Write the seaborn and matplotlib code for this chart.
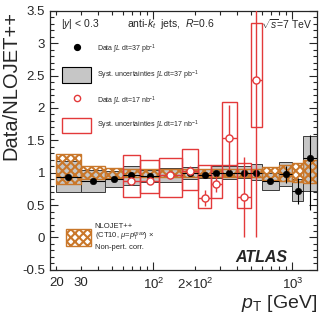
import numpy as np
import seaborn as sns
import matplotlib.pyplot as plt
import matplotlib.ticker as mticker
import matplotlib.lines as mlines
import matplotlib.patches as mpatches

sns.set_style('ticks')
plt.rcParams['font.family'] = ['Liberation Sans', 'DejaVu Sans']
plt.rcParams['mathtext.fontset'] = 'custom'
plt.rcParams['mathtext.rm'] = 'Liberation Sans'
plt.rcParams['mathtext.it'] = 'Liberation Sans:italic'
plt.rcParams['mathtext.bf'] = 'Liberation Sans:bold'
plt.rcParams['hatch.linewidth'] = 1.5

# pT bins (GeV), |y| < 0.3
pt_edges = [20, 30, 45, 60, 80, 110, 160, 210, 260, 310, 400, 500, 600, 800, 1000, 1200, 1500]

# data 37 pb-1 / NLOJET++
ratio_37 = [0.93, 0.87, 0.90, 0.96, 0.95, 0.965, 0.99, 0.96, 0.99, 0.99, 1.0, 0.99, 0.87, 0.975, 0.72, 1.23]
stat_lo_37 = [0.005, 0.005, 0.005, 0.005, 0.005, 0.005, 0.01, 0.01, 0.01, 0.02, 0.02, 0.03, 0.04, 0.13, 0.2, 0.8]
stat_hi_37 = [0.005, 0.005, 0.005, 0.005, 0.005, 0.005, 0.01, 0.01, 0.01, 0.02, 0.02, 0.03, 0.04, 0.13, 0.2, 0.35]
syst_lo_37 = [0.70, 0.71, 0.78, 0.81, 0.85, 0.85, 0.91, 0.92, 0.92, 0.91, 0.92, 0.89, 0.74, 0.79, 0.56, 0.72]
syst_hi_37 = [1.18, 1.05, 1.03, 1.10, 1.05, 1.07, 1.09, 1.06, 1.10, 1.10, 1.10, 1.13, 1.00, 1.16, 0.90, 1.57]

# NLOJET++ (CT10) x non-pert. corr. uncertainty band
theo_lo = [0.82, 0.90, 0.92, 0.94, 0.93, 0.93, 0.93, 0.93, 0.93, 0.93, 0.93, 0.93, 0.89, 0.87, 0.85, 0.84]
theo_hi = [1.29, 1.11, 1.08, 1.06, 1.06, 1.06, 1.06, 1.06, 1.06, 1.06, 1.06, 1.06, 1.09, 1.12, 1.15, 1.19]

# data 17 nb-1 / NLOJET++ (bins 60-600 GeV)
pt_edges_17 = [60, 80, 110, 160, 210, 260, 310, 400, 500, 600]
ratio_17 = [0.88, 0.88, 0.96, 1.03, 0.61, 0.83, 1.54, 0.62, 2.43]
stat_17 = [0.03, 0.04, 0.05, 0.07, 0.12, 0.12, 0.50, 0.62, 2.43]
syst_lo_17 = [0.62, 0.68, 0.63, 0.74, 0.45, 0.61, 1.12, 0.45, 1.70]
syst_hi_17 = [1.27, 1.20, 1.22, 1.37, 1.12, 1.12, 2.10, 1.15, 3.31]

red = '#e3393a'
orange = '#c9772a'

fig = plt.figure(figsize=(3.24, 3.19), dpi=100)
ax = fig.add_axes([0.154, 0.154, 0.824, 0.812])

e37 = np.array(pt_edges, dtype=float)
x37 = np.sqrt(e37[:-1] * e37[1:])
e17 = np.array(pt_edges_17, dtype=float)
x17 = np.sqrt(e17[:-1] * e17[1:])

# systematic boxes, 37 pb-1
lo = np.array(syst_lo_37)
ax.bar(e37[:-1], np.array(syst_hi_37) - lo, width=np.diff(e37), bottom=lo, align='edge',
       color='#c6c6c6', edgecolor='#3a3a3a', linewidth=0.7, zorder=1)

# theory band
lo = np.array(theo_lo)
ax.bar(e37[:-1], np.array(theo_hi) - lo, width=np.diff(e37), bottom=lo, align='edge',
       facecolor='none', edgecolor=orange, hatch='xxxx', linewidth=1.0, zorder=2)

# systematic boxes, 17 nb-1
lo = np.array(syst_lo_17)
ax.bar(e17[:-1], np.array(syst_hi_17) - lo, width=np.diff(e17), bottom=lo, align='edge',
       facecolor='none', edgecolor=red, linewidth=1.0, zorder=3)

# data points
ax.errorbar(x37, ratio_37, yerr=[stat_lo_37, stat_hi_37], xerr=[x37 - e37[:-1], e37[1:] - x37],
            fmt='none', ecolor='black', elinewidth=0.8, capsize=0, zorder=4)
sns.scatterplot(x=x37, y=ratio_37, color='black', s=22, edgecolor='black', linewidth=0.4,
                ax=ax, zorder=5, legend=False)
ax.errorbar(x17, ratio_17, yerr=stat_17, xerr=[x17 - e17[:-1], e17[1:] - x17],
            fmt='none', ecolor=red, elinewidth=1.0, capsize=0, zorder=6)
sns.scatterplot(x=x17, y=ratio_17, color='white', s=26, edgecolor=red, linewidth=1.0,
                ax=ax, zorder=7, legend=False)

ax.set_xscale('log')
ax.set_xlim(18, 1500)
ax.set_ylim(-0.5, 3.5)

ax.xaxis.set_major_locator(mticker.LogLocator(base=10))
ax.xaxis.set_major_formatter(mticker.FuncFormatter(lambda v, p: r'$10^{%d}$' % round(np.log10(v))))
ax.xaxis.set_minor_locator(mticker.LogLocator(base=10, subs=np.arange(2, 10)))
minor_labels = {20: '20', 30: '30', 200: r'$2{\times}10^{2}$'}
ax.xaxis.set_minor_formatter(mticker.FuncFormatter(lambda v, p: minor_labels.get(int(round(v)), '')))
ax.yaxis.set_major_locator(mticker.MultipleLocator(0.5))
ax.yaxis.set_minor_locator(mticker.MultipleLocator(0.1))
ax.yaxis.set_major_formatter(mticker.FuncFormatter(lambda v, p: '%g' % v))

ax.tick_params(which='both', direction='in', top=True, right=True, width=0.8)
ax.tick_params(which='major', length=6, labelsize=9.5)
ax.tick_params(which='minor', length=3, labelsize=9.5)
ax.tick_params(axis='x', which='both', pad=5)
for s in ax.spines.values():
    s.set_linewidth(0.9)

ax.set_ylabel('Data/NLOJET++', fontsize=14.5, loc='top')
ax.yaxis.set_label_coords(-0.11, 1.0)
ax.set_xlabel(r'$p_{\mathrm{T}}$ [GeV]', fontsize=14, loc='right', labelpad=1)

ax.text(0.04, 0.95, r'|$y$| < 0.3', transform=ax.transAxes, fontsize=7.5, va='center')
ax.text(0.29, 0.95, r'anti-$k_{t}$  jets,  $R$=0.6', transform=ax.transAxes, fontsize=7.5, va='center')
ax.text(0.985, 0.95, r'$\sqrt{s}$=7 TeV', transform=ax.transAxes, fontsize=7.5, va='center', ha='right')
ax.text(0.89, 0.046, 'ATLAS', transform=ax.transAxes, fontsize=11.5, fontweight='bold',
        fontstyle='italic', ha='right', va='center')

h1 = [
    mlines.Line2D([], [], color='black', marker='o', markersize=4.2, linestyle='None'),
    mpatches.Patch(facecolor='#c6c6c6', edgecolor='black', linewidth=0.8),
    mlines.Line2D([], [], color=red, marker='o', markersize=4.5, markerfacecolor='white',
                  markeredgewidth=1.0, linestyle='None'),
    mpatches.Patch(facecolor='none', edgecolor=red, linewidth=1.0),
]
l1 = [r'Data $\int L$ dt=37 pb$^{-1}$',
      r'Syst. uncertainties $\int L$ dt=37 pb$^{-1}$',
      r'Data $\int L$ dt=17 nb$^{-1}$',
      r'Syst. uncertainties $\int L$ dt=17 nb$^{-1}$']
leg1 = ax.legend(h1, l1, loc='upper left', bbox_to_anchor=(0.035, 0.89), fontsize=5,
                 frameon=False, handlelength=4.2, handleheight=3.0, labelspacing=1.45,
                 handletextpad=0.8, borderaxespad=0)
ax.add_artist(leg1)

h2 = [mpatches.Patch(facecolor='none', edgecolor=orange, hatch='xxxx', linewidth=1.0)]
l2 = ['NLOJET++\n(CT10, $\\mu$=$p_{\\mathrm{T}}^{max}$) $\\times$\nNon-pert. corr.']
ax.legend(h2, l2, loc='lower left', bbox_to_anchor=(0.05, 0.06), fontsize=5.5, frameon=False,
          handlelength=3.2, handleheight=3.0, handletextpad=0.5, borderaxespad=0)

fig.savefig('out.png', dpi=100)
